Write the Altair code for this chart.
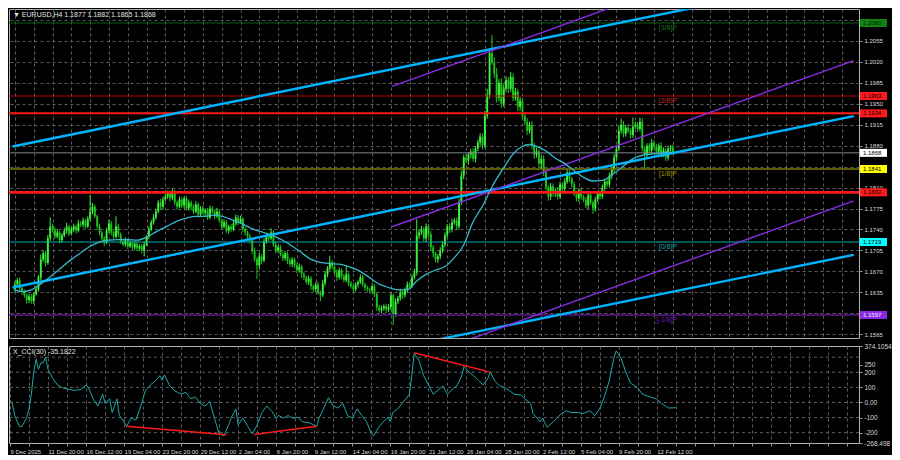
import altair as alt
import pandas as pd

# ---------------- data ----------------
first_open = 1.1640
close = [
    1.1648, 1.1655, 1.1642, 1.1636, 1.1630, 1.1622, 1.1628, 1.1620, 1.1632, 1.1640,
    1.1660, 1.1690, 1.1700, 1.1684, 1.1725, 1.1745, 1.1740, 1.1728, 1.1735, 1.1722,
    1.1730, 1.1738, 1.1745, 1.1733, 1.1740, 1.1745, 1.1738, 1.1750, 1.1748, 1.1755,
    1.1745, 1.1758, 1.1770, 1.1778, 1.1762, 1.1745, 1.1735, 1.1725, 1.1718, 1.1738,
    1.1750, 1.1735, 1.1728, 1.1745, 1.1732, 1.1720, 1.1715, 1.1722, 1.1712, 1.1718,
    1.1710, 1.1716, 1.1708, 1.1712, 1.1705, 1.1715, 1.1728, 1.1740, 1.1752, 1.1760,
    1.1770, 1.1785, 1.1778, 1.1790, 1.1795, 1.1800, 1.1792, 1.1802, 1.1785, 1.1778,
    1.1790, 1.1780, 1.1792, 1.1775, 1.1785, 1.1778, 1.1770, 1.1782, 1.1765, 1.1775,
    1.1768, 1.1772, 1.1760, 1.1775, 1.1770, 1.1762, 1.1770, 1.1755, 1.1745, 1.1752,
    1.1738, 1.1745, 1.1740, 1.1750, 1.1760, 1.1752, 1.1758, 1.1740, 1.1735, 1.1728,
    1.1722, 1.1705, 1.1690, 1.1680, 1.1695, 1.1688, 1.1720, 1.1730, 1.1725, 1.1735,
    1.1715, 1.1705, 1.1710, 1.1698, 1.1692, 1.1700, 1.1688, 1.1682, 1.1690, 1.1680,
    1.1672, 1.1678, 1.1665, 1.1660, 1.1652, 1.1658, 1.1645, 1.1640, 1.1648, 1.1635,
    1.1630, 1.1650, 1.1665, 1.1675, 1.1685, 1.1678, 1.1668, 1.1660, 1.1672, 1.1662,
    1.1655, 1.1665, 1.1650, 1.1645, 1.1640, 1.1648, 1.1652, 1.1660, 1.1648, 1.1642,
    1.1640, 1.1638, 1.1645, 1.1632, 1.1610, 1.1605, 1.1608, 1.1612, 1.1606, 1.1610,
    1.1630, 1.1598, 1.1620, 1.1625, 1.1635, 1.1630, 1.1640, 1.1648, 1.1645, 1.1660,
    1.1668, 1.1730, 1.1735, 1.1740, 1.1725, 1.1745, 1.1732, 1.1710, 1.1700, 1.1690,
    1.1695, 1.1705, 1.1715, 1.1730, 1.1745, 1.1740, 1.1752, 1.1755, 1.1745, 1.1785,
    1.1830, 1.1860, 1.1855, 1.1865, 1.1870, 1.1858, 1.1875, 1.1885, 1.1895, 1.1880,
    1.1930, 1.1965, 1.2035, 1.2020, 1.2000, 1.1960, 1.1985, 1.1950, 1.1975, 1.1990,
    1.1975, 1.1995, 1.1960, 1.1970, 1.1945, 1.1955, 1.1930, 1.1920, 1.1905, 1.1915,
    1.1880, 1.1865, 1.1870, 1.1850, 1.1858, 1.1835, 1.1810, 1.1795, 1.1812, 1.1800,
    1.1805, 1.1795, 1.1815, 1.1808, 1.1820, 1.1835, 1.1825, 1.1815, 1.1800, 1.1792,
    1.1805, 1.1795, 1.1790, 1.1780, 1.1798, 1.1785, 1.1775, 1.1790, 1.1800, 1.1795,
    1.1810, 1.1820, 1.1815, 1.1830, 1.1840, 1.1860, 1.1875, 1.1905, 1.1915, 1.1900,
    1.1910, 1.1905, 1.1898, 1.1912, 1.1915, 1.1908, 1.1920, 1.1875, 1.1865, 1.1880,
    1.1872, 1.1885, 1.1878, 1.1870, 1.1880, 1.1865, 1.1872, 1.1860, 1.1875, 1.1877,
    1.1868,
]
# wick lengths above / below the body, in pips
wick_up = [
    6, 4, 5, 3, 4, 3, 5, 4, 3, 6, 4, 8, 5, 4, 6, 15, 5, 4, 6, 3,
    4, 5, 6, 3, 4, 5, 3, 6, 4, 5, 3, 4, 28, 6, 4, 3, 5, 3, 4, 5,
    6, 4, 3, 17, 4, 3, 4, 5, 3, 4, 3, 5, 4, 3, 4, 5, 3, 5, 4, 6,
    5, 4, 6, 5, 4, 5, 3, 7, 4, 3, 5, 4, 3, 4, 5, 3, 4, 5, 3, 4,
    5, 3, 4, 5, 4, 3, 6, 4, 3, 5, 4, 3, 4, 6, 5, 4, 5, 3, 4, 3,
    4, 3, 5, 4, 6, 4, 5, 4, 3, 7, 4, 5, 3, 4, 5, 4, 3, 5, 4, 3,
    4, 5, 3, 4, 3, 5, 4, 3, 4, 5, 3, 6, 5, 4, 11, 4, 3, 5, 4, 3,
    4, 15, 3, 4, 5, 4, 3, 5, 4, 3, 4, 3, 5, 4, 3, 4, 5, 3, 4, 5,
    4, 3, 5, 4, 6, 4, 3, 5, 4, 5, 6, 27, 5, 6, 4, 5, 4, 5, 4, 3,
    4, 5, 6, 5, 4, 5, 6, 4, 5, 6, 8, 5, 6, 4, 5, 6, 4, 5, 6, 5,
    8, 10, 6, 30, 8, 10, 6, 8, 7, 6, 5, 8, 6, 7, 5, 6, 5, 4, 6, 5,
    6, 5, 7, 4, 5, 6, 5, 4, 6, 5, 4, 6, 5, 4, 6, 5, 4, 3, 5, 4,
    4, 5, 3, 4, 5, 4, 3, 5, 4, 3, 5, 4, 6, 5, 4, 6, 5, 8, 10, 6,
    5, 6, 4, 15, 5, 4, 7, 6, 5, 4, 5, 6, 4, 5, 4, 6, 5, 4, 5, 4,
    5,
]
wick_dn = [
    5, 4, 6, 5, 4, 6, 5, 4, 5, 3, 4, 5, 4, 6, 3, 4, 5, 4, 3, 5,
    4, 3, 5, 4, 3, 4, 5, 3, 4, 5, 4, 3, 4, 5, 3, 4, 5, 4, 6, 3,
    4, 5, 4, 3, 5, 4, 3, 4, 5, 3, 4, 5, 4, 3, 5, 10, 3, 4, 3, 4,
    4, 3, 5, 4, 3, 4, 5, 3, 4, 5, 3, 4, 5, 3, 4, 5, 4, 3, 5, 4,
    3, 5, 4, 3, 4, 5, 3, 4, 5, 3, 4, 5, 4, 3, 4, 5, 3, 4, 5, 4,
    5, 6, 4, 23, 5, 6, 3, 4, 5, 3, 4, 5, 4, 3, 5, 4, 6, 4, 5, 4,
    5, 4, 6, 5, 4, 5, 6, 4, 5, 4, 10, 3, 4, 5, 4, 5, 4, 6, 4, 5,
    4, 3, 5, 4, 6, 4, 5, 3, 4, 5, 4, 6, 4, 5, 6, 4, 5, 4, 6, 4,
    5, 18, 4, 5, 4, 6, 4, 5, 4, 3, 4, 5, 6, 4, 5, 6, 5, 6, 7, 5,
    6, 5, 4, 5, 4, 6, 5, 4, 6, 5, 4, 6, 5, 7, 6, 5, 6, 4, 5, 6,
    4, 5, 6, 5, 7, 8, 6, 7, 5, 6, 7, 5, 6, 5, 7, 6, 5, 6, 7, 5,
    6, 7, 5, 6, 7, 6, 5, 7, 6, 5, 6, 5, 4, 6, 5, 4, 6, 5, 4, 5,
    6, 5, 4, 5, 6, 4, 9, 5, 4, 5, 4, 5, 4, 5, 6, 4, 5, 4, 5, 6,
    5, 4, 6, 5, 4, 5, 4, 5, 25, 4, 5, 6, 4, 5, 6, 5, 4, 6, 5, 4,
    3,
]

# moving average: (bar, value)
ma_points = [
    (0, 1.1639), (3, 1.1636), (7, 1.1639), (11, 1.1649), (16, 1.1664), (20, 1.1677),
    (24, 1.1690), (28, 1.1701), (32, 1.1712), (36, 1.1719), (40, 1.1722), (44, 1.1723),
    (48, 1.1723), (52, 1.1722), (56, 1.1727), (60, 1.1736), (65, 1.1746), (69, 1.1754),
    (73, 1.1759), (77, 1.1762), (81, 1.1762), (85, 1.1764), (89, 1.1761), (93, 1.1755),
    (97, 1.1749), (101, 1.1741), (105, 1.1736), (109, 1.1731), (114, 1.1722), (118, 1.1712),
    (122, 1.1701), (126, 1.1690), (130, 1.1685), (134, 1.1683), (138, 1.1682), (142, 1.1678),
    (146, 1.1672), (150, 1.1662), (154, 1.1651), (159, 1.1643), (163, 1.1639), (167, 1.1639),
    (171, 1.1654), (175, 1.1665), (179, 1.1672), (183, 1.1678), (187, 1.1693), (191, 1.1714),
    (195, 1.1753), (199, 1.1779), (203, 1.1811), (208, 1.1843), (212, 1.1866), (216, 1.1879),
    (219, 1.1882), (222, 1.1879), (226, 1.1871), (230, 1.1859), (234, 1.1850), (238, 1.1838),
    (242, 1.1827), (246, 1.1821), (250, 1.1822), (255, 1.1834), (259, 1.1846), (263, 1.1858),
    (267, 1.1864), (271, 1.1866), (275, 1.1868), (280, 1.1869),
]

# CCI(30): (bar, value)
cci_points = [
    (0, 12), (1, -6), (2, -86), (4, -159), (5, -159), (7, -104), (8, -43), (9, 55),
    (10, 202), (11, 287), (12, 220), (13, 263), (14, 263), (15, 300), (16, 220), (18, 159),
    (20, 116), (22, 98), (25, 86), (27, 80), (30, 86), (32, 116), (33, 98), (35, 24),
    (37, -24), (39, 55), (40, -6), (42, 24), (43, -67), (45, 24), (46, -86), (48, -128),
    (49, -159), (51, -104), (53, -116), (55, -24), (57, 80), (59, 116), (61, 141), (63, 177),
    (64, 147), (65, 183), (67, 116), (69, 80), (72, 55), (74, 67), (76, 24), (78, 37),
    (80, -6), (82, -24), (84, 6), (86, -104), (88, -208), (90, -220), (92, -147), (93, -104),
    (95, -43), (96, -147), (98, -104), (100, -159), (102, -208), (104, -147), (106, -67), (108, -24),
    (110, -55), (112, -104), (113, -86), (115, -104), (117, -86), (119, -104), (121, -98), (123, -128),
    (126, -135), (129, -159), (130, -104), (132, -37), (134, 31), (136, -24), (138, -37), (140, -6),
    (142, -86), (144, -104), (146, -43), (148, -86), (150, -128), (152, -208), (153, -220), (155, -165),
    (157, -128), (159, -98), (160, -128), (161, -67), (163, -43), (165, -6), (168, 55), (169, 177),
    (170, 324), (172, 281), (174, 177), (176, 116), (178, 55), (180, 80), (182, 110), (184, 55),
    (186, 86), (187, 100), (188, 110), (190, 177), (191, 239), (193, 202), (195, 177), (197, 147),
    (199, 116), (201, 159), (202, 202), (204, 141), (206, 110), (208, 98), (210, 80), (212, 55),
    (215, 49), (217, 18), (219, -6), (220, -73), (223, -128), (224, -104), (226, -165), (228, -135),
    (230, -104), (232, -73), (234, -55), (236, -67), (239, -67), (241, -73), (244, -55), (246, -86),
    (248, -43), (250, 37), (252, 141), (254, 294), (255, 342), (257, 294), (259, 202), (261, 128),
    (264, 98), (266, 55), (269, 37), (272, 24), (274, -6), (277, -37), (280, -35),
]

# horizontal levels on the price panel
levels = [1.2085, 1.1963, 1.1934, 1.1868, 1.1841, 1.1802, 1.1719, 1.1597]
# trend / channel lines: (start bar, start price, end bar, end price)
trend_lines = [
    (-1, 1.18786, 357, 1.21650),
    (-1, 1.16430, 357, 1.19294),
    (150, 1.15320, 357, 1.16976),
    (160.5, 1.19790, 357, 1.22567),
    (160.5, 1.17445, 357, 1.20222),
    (160.5, 1.15100, 357, 1.17877),
]
# Murrey-style level tags
fib_text = ["[3/8]P", "[2/8]P", "[1/8]P", "[0/8]P", "[-1/8]P"]
fib_price = [1.2085, 1.1963, 1.1841, 1.1719, 1.1597]
fib_bar = [274, 274, 274, 274, 273]
# CCI divergence segments: (bar1, cci1, bar2, cci2)
div_lines = [(49, -158), (91, -214)], [(102.6, -213), (129, -158)], [(170, 329), (202, 201)]

price_ticks = [1.1565, 1.1600, 1.1635, 1.1670, 1.1705, 1.1740, 1.1775, 1.1810, 1.1845,
               1.1880, 1.1915, 1.1950, 1.1985, 1.2020, 1.2055, 1.2090]
cci_ticks = [374.1054, 250, 200, 100, 0, -100, -200, -268.498]
cci_grid = [300, 200, 100, 0, -100, -200]
time_labels = ["9 Dec 2025", "11 Dec 20:00", "16 Dec 12:00", "19 Dec 04:00", "23 Dec 20:00",
               "29 Dec 12:00", "2 Jan 04:00", "6 Jan 20:00", "9 Jan 12:00", "14 Jan 04:00",
               "16 Jan 20:00", "21 Jan 12:00", "26 Jan 04:00", "28 Jan 20:00", "2 Feb 12:00",
               "5 Feb 04:00", "9 Feb 20:00", "12 Feb 12:00"]

# ---------------- styles ----------------
level_colors = ["#0d5c0d", "#b30000", "#ff1a1a", "#7d8a90", "#7a7a00", "#ff1a1a", "#00b3b3", "#5a1a8c"]
level_widths = [1.2, 1, 2, 1, 1.6, 2.6, 1, 1.6]
box_fill = ["#118211", "#ff1a1a", "#ff1a1a", "#ffffff", "#ffff00", "#ff1a1a", "#00ffff", "#8a2be2"]
box_txt = ["#062a06", "#000000", "#000000", "#000000", "#000000", "#000000", "#000000", "#f0e6ff"]
trend_colors = ["#00b4ff", "#00b4ff", "#00b4ff", "#8a2be2", "#8a2be2", "#8a2be2"]
trend_widths = [2.4, 2.4, 2.4, 1.4, 1.4, 1.4]
fib_colors = ["#1c6e1c", "#c02a2a", "#a89a00", "#1aa0a0", "#7a1ab8"]
FONT = "Liberation Sans"
GRID = "#5e5e5e"

W, H1, H2 = 850, 329, 97

# ---------------- tables ----------------
opens = [first_open] + close[:-1]
n = len(close)
candles = pd.DataFrame({
    "bar": list(range(n)),
    "open": opens,
    "close": close,
    "high": [max(o, c) + u * 0.0001 for o, c, u in zip(opens, close, wick_up)],
    "low": [min(o, c) - d * 0.0001 for o, c, d in zip(opens, close, wick_dn)],
})
candles["dir"] = ["up" if c >= o else "down" for o, c in zip(opens, close)]

ma_df = pd.DataFrame(ma_points, columns=["bar", "ma"])
cci_df = pd.DataFrame(cci_points, columns=["bar", "cci"])
lev_df = pd.DataFrame({"price": levels, "color": level_colors, "w": level_widths,
                       "fill": box_fill, "tcol": box_txt,
                       "label": [f"{v:.4f}" for v in levels]})
tr_df = pd.DataFrame(trend_lines, columns=["b1", "p1", "b2", "p2"])
tr_df["color"] = trend_colors
tr_df["w"] = trend_widths
fib_df = pd.DataFrame({"bar": fib_bar, "price": fib_price, "t": fib_text, "color": fib_colors})
div_df = pd.DataFrame([(a[0], a[1], b[0], b[1]) for a, b in div_lines],
                      columns=["b1", "c1", "b2", "c2"])
last = candles.iloc[-1]
title_txt = f"\u25bc EURUSD,H4  {last['open']:.4f} {last['high']:.4f} {last['low']:.4f} {last['close']:.4f}"
cci_txt = f"X_CCI(30) {cci_points[-1][1] - 0.1822:.4f}"

# ---------------- scales & axes ----------------
xs = alt.Scale(domain=[-0.4, 357.1], nice=False, zero=False)
ys = alt.Scale(domain=[1.15586, 1.21084], nice=False, zero=False)
cs = alt.Scale(domain=[-268.498, 374.1054], nice=False, zero=False)
grid_bars = list(range(0, 358, 8))

x_main_axis = alt.Axis(values=grid_bars, labels=False, ticks=False, domain=False, grid=True,
                       gridDash=[3, 3], gridColor=GRID, title=None)
hide = "(abs(datum.value-1.16)<0.00005 || abs(datum.value-1.1845)<0.00005 || abs(datum.value-1.209)<0.00005)"
y_main_axis = alt.Axis(orient="right", values=price_ticks, grid=True, gridDash=[3, 3], gridColor=GRID,
                       labelExpr=hide + " ? '' : format(datum.value, '.4f')", title=None,
                       tickSize=3, labelPadding=2, labelOverlap=False, labelFontSize=6)
lab_js = "[" + ",".join("'" + t + "'" for t in time_labels) + "]"
x_cci_axis = alt.Axis(values=grid_bars, grid=True, gridDash=[3, 3], gridColor=GRID, title=None,
                      labelExpr=f"(datum.value % 16 == 0 && datum.value/16 < {len(time_labels)}) ? {lab_js}[datum.value/16] : ''",
                      labelAlign="left", labelOverlap=False, tickSize=3, labelPadding=2,
                      labelFontSize=6, labelBound=False)
y_cci_axis = alt.Axis(orient="right", values=cci_ticks, grid=False, title=None, tickSize=3,
                      labelPadding=2, labelOverlap=False, labelFontSize=6.5,
                      labelExpr="datum.value == 0 ? '0.00' : toString(datum.value)")

X = lambda f: alt.X(f, scale=xs, axis=x_main_axis)
Y = lambda f: alt.Y(f, scale=ys, axis=y_main_axis)

candle_color = alt.Color("dir:N", scale=alt.Scale(domain=["up", "down"], range=["#3cf23c", "#1cc41c"]), legend=None)

wicks = alt.Chart(candles).mark_rule(strokeWidth=1, clip=True).encode(
    x=X("bar:Q"), y=Y("low:Q"), y2="high:Q", color=candle_color)
bodies = alt.Chart(candles).mark_bar(size=1.9, clip=True).encode(
    x=X("bar:Q"), y=Y("open:Q"), y2="close:Q", color=candle_color)
level_rules = alt.Chart(lev_df).mark_rule(clip=True).encode(
    y=Y("price:Q"), color=alt.Color("color:N", scale=None), strokeWidth=alt.StrokeWidth("w:Q", scale=None))
trends = alt.Chart(tr_df).mark_rule(clip=True).encode(
    x=X("b1:Q"), x2="b2:Q", y=Y("p1:Q"), y2="p2:Q",
    color=alt.Color("color:N", scale=None), strokeWidth=alt.StrokeWidth("w:Q", scale=None))
ma_line = alt.Chart(ma_df).mark_line(color="#34b8cc", strokeWidth=1.3, interpolate="monotone", clip=True).encode(
    x=X("bar:Q"), y=Y("ma:Q"))
fib_labels = alt.Chart(fib_df).mark_text(align="left", baseline="middle", dy=5, fontSize=7, font=FONT).encode(
    x=X("bar:Q"), y=Y("price:Q"), text="t:N", color=alt.Color("color:N", scale=None))
boxes = alt.Chart(lev_df).mark_rect(yOffset=-4, y2Offset=4).encode(
    x=alt.value(W + 1), x2=alt.value(W + 28), y=Y("price:Q"), y2="price:Q",
    color=alt.Color("fill:N", scale=None))
box_text = alt.Chart(lev_df).mark_text(align="left", baseline="middle", fontSize=6, font=FONT).encode(
    x=alt.value(W + 4), y=Y("price:Q"), text="label:N", color=alt.Color("tcol:N", scale=None))
title = alt.Chart(pd.DataFrame({"t": [title_txt]})).mark_text(
    align="left", baseline="top", fontSize=7, font=FONT, color="#e6e6e6").encode(
    x=alt.value(4), y=alt.value(2), text="t:N")

main = alt.layer(wicks, bodies, level_rules, trends, ma_line, fib_labels, boxes, box_text, title
                 ).properties(width=W, height=H1)

XC = lambda f: alt.X(f, scale=xs, axis=x_cci_axis)
YC = lambda f: alt.Y(f, scale=cs, axis=y_cci_axis)
cgrid = alt.Chart(pd.DataFrame({"v": cci_grid})).mark_rule(strokeDash=[3, 3], color=GRID, strokeWidth=1).encode(
    y=YC("v:Q"))
cci_line = alt.Chart(cci_df).mark_line(color="#21a6a6", strokeWidth=1, clip=True).encode(
    x=XC("bar:Q"), y=YC("cci:Q"))
divs = alt.Chart(div_df).mark_rule(color="#ff1a1a", strokeWidth=1.5, clip=True).encode(
    x=XC("b1:Q"), x2="b2:Q", y=YC("c1:Q"), y2="c2:Q")
cci_title = alt.Chart(pd.DataFrame({"t": [cci_txt]})).mark_text(
    align="left", baseline="top", fontSize=7, font=FONT, color="#e6e6e6").encode(
    x=alt.value(4), y=alt.value(2), text="t:N")
lower = alt.layer(cgrid, cci_line, divs, cci_title).properties(width=W, height=H2)

chart = alt.vconcat(main, lower, spacing=3).properties(padding=0, background="#000000").configure_view(
    stroke="#b0b0b0", strokeWidth=1, fill="#000000").configure_axis(
    labelFont=FONT, labelColor="#d8d8d8", tickColor="#9a9a9a", domain=False)

chart.save("out.html", embed_options={"renderer": "svg", "actions": False})
